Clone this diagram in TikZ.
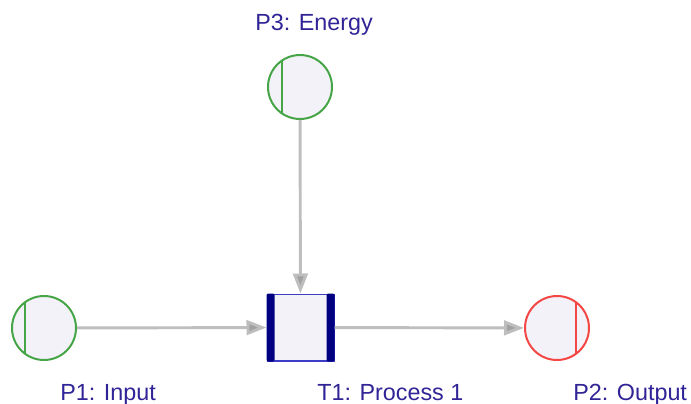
\documentclass[tikz,border=0pt]{standalone}
\usepackage{fontspec}
\setmainfont{Liberation Sans}
\usetikzlibrary{arrows.meta}

\definecolor{tokenfill}{RGB}{242,242,248}
\definecolor{ingreen}{RGB}{70,165,70}
\definecolor{outred}{RGB}{245,70,70}
\definecolor{transblue}{RGB}{60,60,200}
\definecolor{barnavy}{RGB}{0,0,128}
\definecolor{arcgray}{RGB}{190,190,190}
\definecolor{lblblue}{RGB}{48,36,150}

\tikzset{
  place/.style={circle, line width=1.5pt, fill=tokenfill, minimum size=48pt, inner sep=0pt},
  trans/.style={rectangle, draw=transblue, line width=1pt, fill=tokenfill, minimum size=50pt, inner sep=0pt},
  arc/.style={draw=arcgray, line width=2.2pt, -{Triangle[length=15pt,width=11pt,fill=arcgray!85!black]}},
  lbl/.style={text=lblblue, font=\fontsize{17.5}{20}\selectfont, anchor=base west, inner sep=0pt}
}

\begin{document}
\begin{tikzpicture}[x=0.75pt,y=-0.75pt]
\useasboundingbox (0,0) rectangle (691,403);
%places
\node[place,draw=ingreen] (p1) at (44,328) {};
\node[place,draw=ingreen] (p3) at (300,87) {};
\node[place,draw=outred] (p2) at (557,328) {};
\draw[ingreen,line width=1.5pt] (p1.center) ++(-19,-26) -- ++(0,52);
\draw[ingreen,line width=1.5pt] (p3.center) ++(-18,-26.5) -- ++(0,53);
\draw[outred,line width=1.5pt] (p2.center) ++(19,-26) -- ++(0,52);
%transition
\node[trans] (t1) at (300.5,327.5) {};
\fill[barnavy,rounded corners=1pt] (t1.north west) rectangle ([xshift=6pt]t1.south west);
\fill[barnavy,rounded corners=1pt] (t1.north east) rectangle ([xshift=-6pt]t1.south east);
%arcs
\draw[arc] (p1) -- (t1);
\draw[arc] (p3) -- (t1);
\draw[arc] (t1) -- (p2);
%labels
\node[lbl] (p3lbl) at (255,31) {P3: Energy};
\node[lbl] (p1lbl) at (60,400) {P1: Input};
\node[lbl] (t1lbl) at (317,400) {T1: Process 1};
\node[lbl] (p2lbl) at (573,400) {P2: Output};
\end{tikzpicture}
\end{document}
